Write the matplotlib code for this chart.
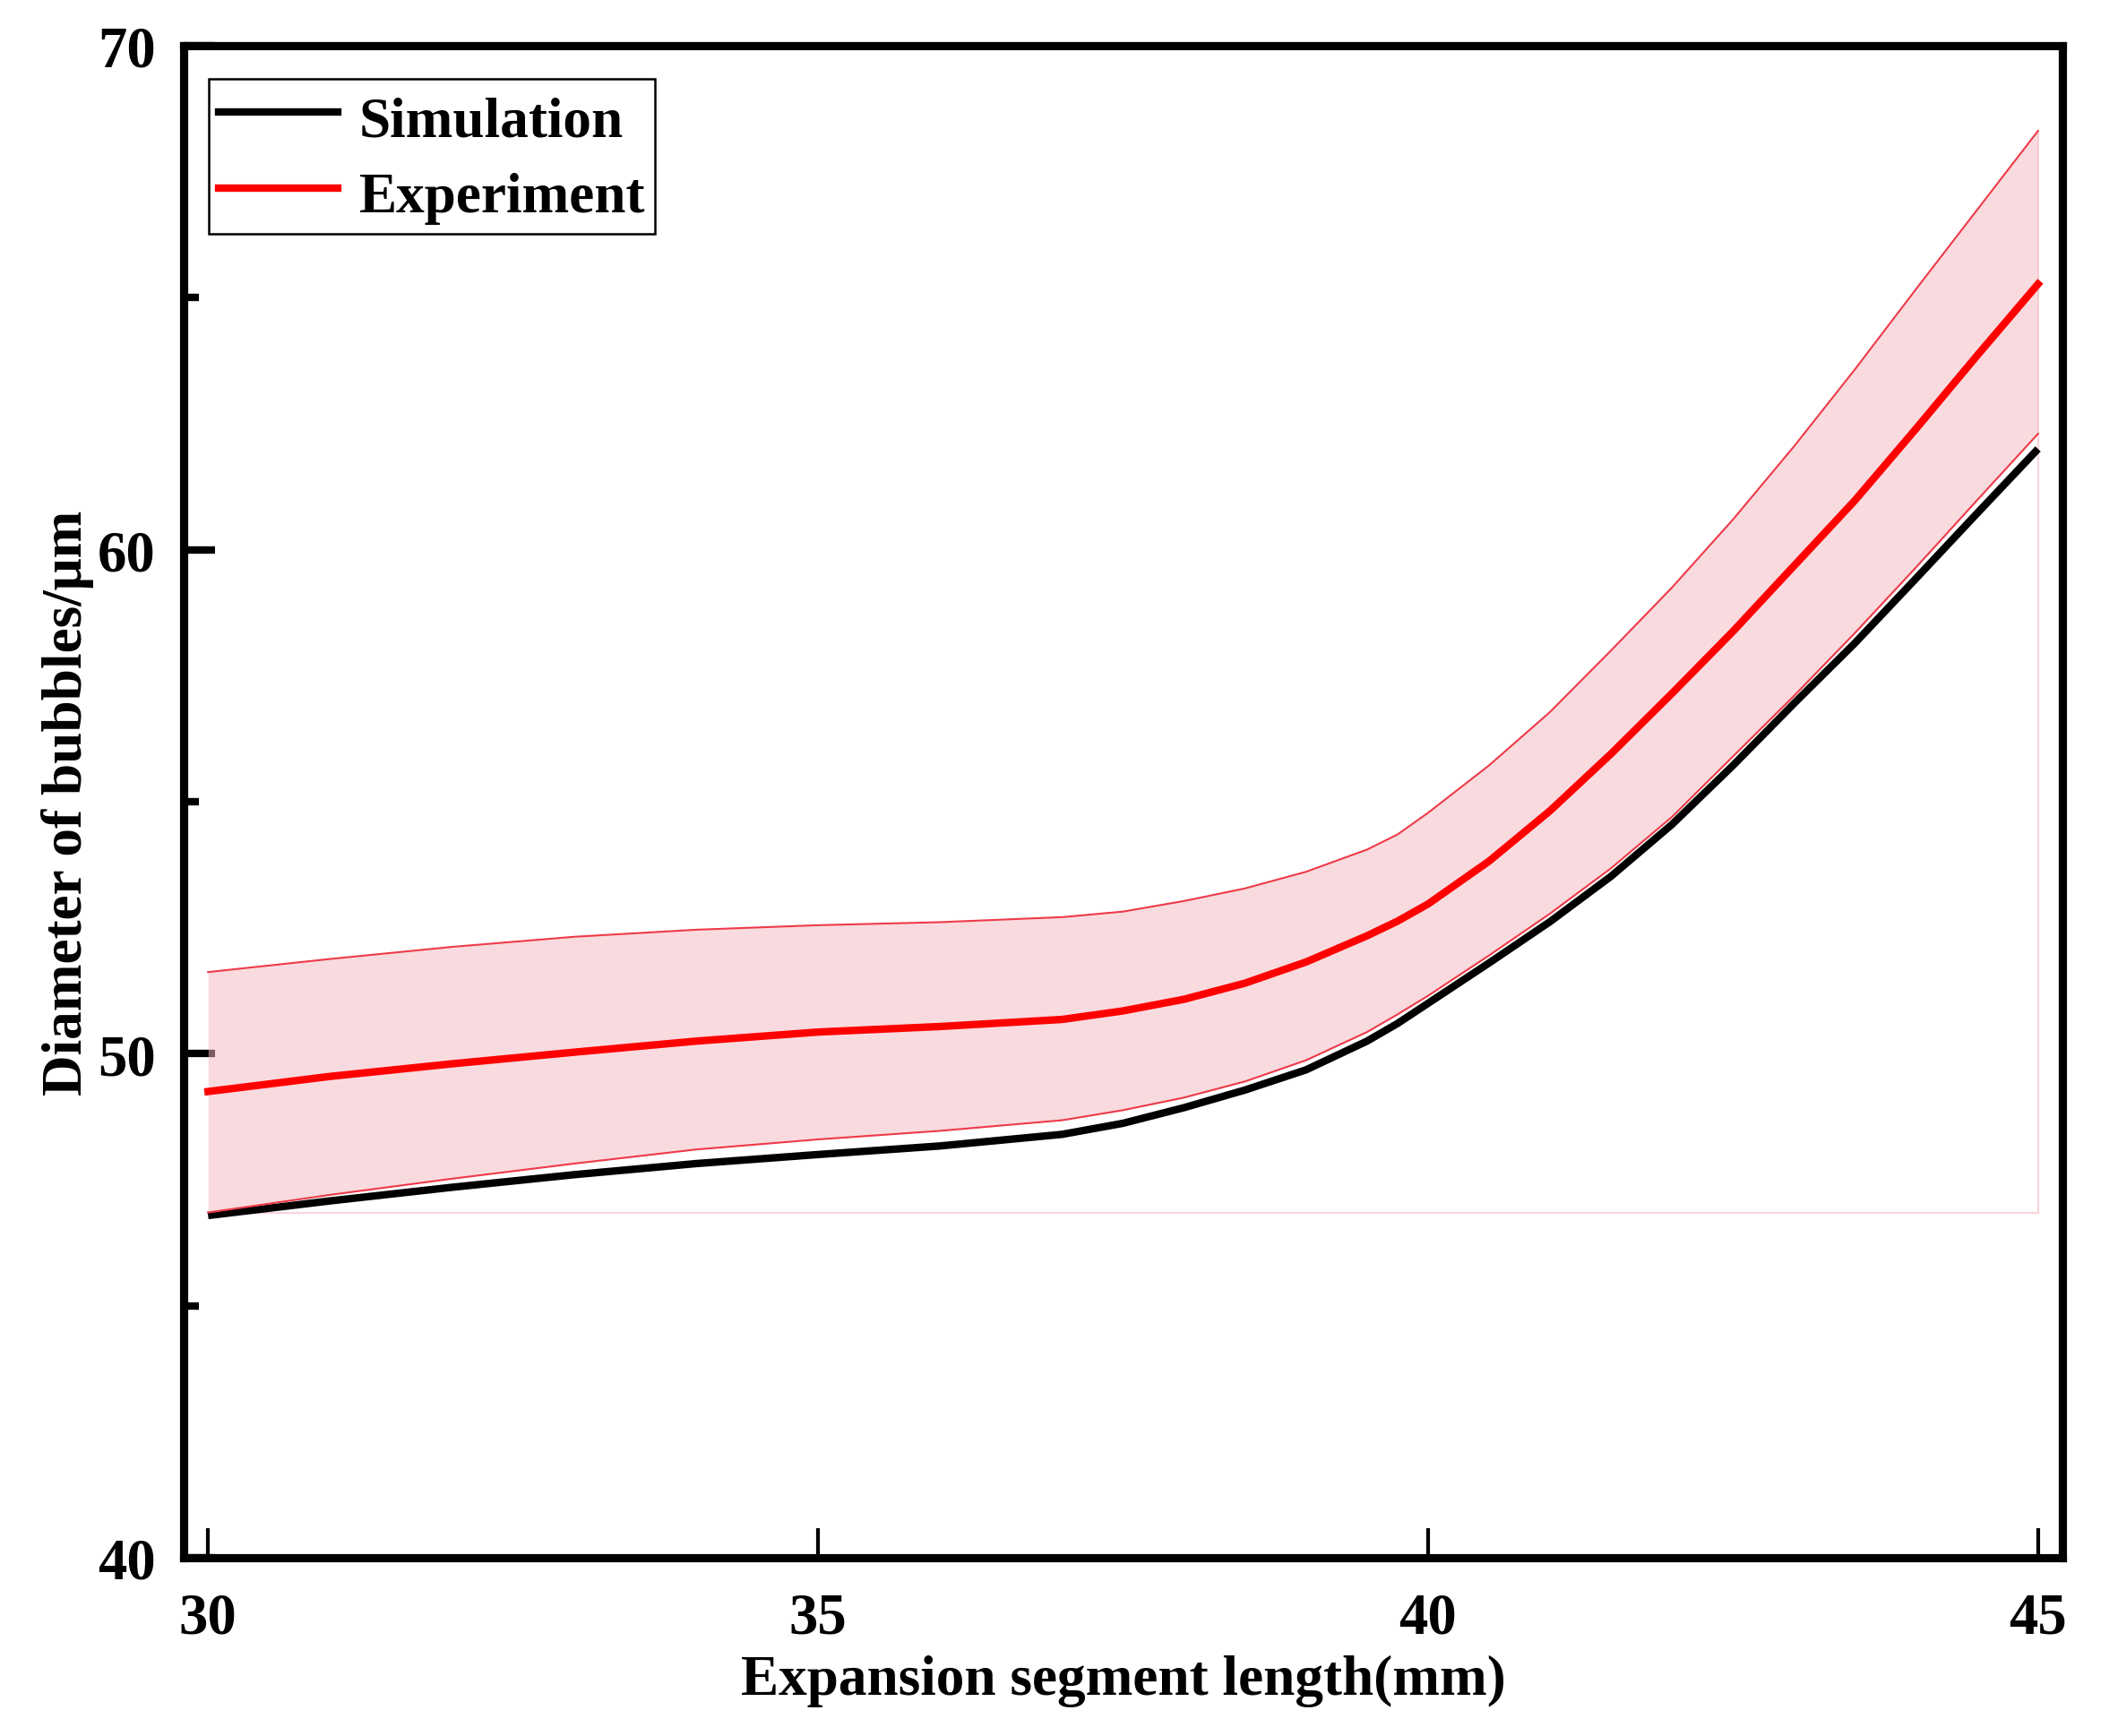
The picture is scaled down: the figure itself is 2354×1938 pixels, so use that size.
import matplotlib
matplotlib.use("Agg")
import matplotlib.pyplot as plt
from matplotlib.lines import Line2D

plt.rcParams['font.family'] = ['Liberation Serif', 'DejaVu Serif']
plt.rcParams['font.weight'] = 'bold'

x = [30, 31, 32, 33, 34, 35, 36, 37, 37.5, 38, 38.5, 39, 39.5, 39.75, 40,
     40.5, 41, 41.5, 42, 42.5, 43, 43.5, 44, 44.5, 45]
simulation = [46.79, 47.08, 47.35, 47.60, 47.82, 48.00, 48.17, 48.40, 48.62, 48.93,
              49.28, 49.68, 50.25, 50.60, 51.00, 51.80, 52.62, 53.52, 54.55, 55.72,
              56.95, 58.15, 59.43, 60.72, 62.00]
experiment = [49.25, 49.55, 49.80, 50.03, 50.25, 50.43, 50.54, 50.68, 50.85, 51.08,
              51.40, 51.82, 52.34, 52.63, 52.97, 53.82, 54.82, 55.95, 57.15, 58.38,
              59.68, 60.98, 62.40, 63.85, 65.27]
exp_upper = [51.62, 51.88, 52.12, 52.32, 52.46, 52.55, 52.61, 52.71, 52.82, 53.03,
             53.28, 53.61, 54.05, 54.35, 54.78, 55.72, 56.78, 58.00, 59.25, 60.60,
             62.05, 63.58, 65.17, 66.74, 68.31]
exp_lower = [46.85, 47.20, 47.52, 47.82, 48.10, 48.30, 48.47, 48.68, 48.88, 49.13,
             49.45, 49.87, 50.43, 50.78, 51.15, 51.95, 52.78, 53.68, 54.70, 55.90,
             57.10, 58.35, 59.65, 60.98, 62.30]

xticks = [30, 35, 40, 45]
yticks = [40, 50, 60, 70]

W, H, DPI = 2354, 1939, 300
fig = plt.figure(figsize=(W / DPI, H / DPI), dpi=DPI)
ax = fig.add_axes([205 / W, 1 - 1740 / H, (2302 - 205) / W, (1740 - 52) / H])

FS = 15.5
LFS = 15.2
# simulation line (under the band)
ax.plot(x, simulation, color='black', lw=2.0, zorder=2, solid_capstyle='butt')
# band
ax.fill_between(x, exp_lower, exp_upper, color=(245 / 255, 185 / 255, 192 / 255),
                alpha=0.50, lw=0, zorder=3)
edge = '#EE3A48'
ax.plot(x, exp_upper, color=edge, lw=0.5, zorder=3.5)
ax.plot(x, exp_lower, color=edge, lw=0.5, zorder=3.5)
# faint outline of fill base
faint = '#F9D3D9'
ax.plot([x[0], x[-1]], [exp_lower[0], exp_lower[0]], color=faint, lw=0.5, zorder=1.5)
ax.plot([x[-1], x[-1]], [exp_lower[0], exp_upper[-1]], color=faint, lw=0.5, zorder=1.5)
# experiment mean line
ax.plot(x, experiment, color='#FF0000', lw=2.0, zorder=4)

ax.set_xlim(29.8, 45.2)
ax.set_ylim(40, 70)
ax.set_xticks(xticks)
ax.set_yticks(yticks)
ax.set_yticks([45, 55, 65], minor=True)
ax.set_xticklabels([str(v) for v in xticks], fontsize=FS, fontweight='bold')
ax.set_yticklabels([str(v) for v in yticks], fontsize=FS, fontweight='bold')

for s in ax.spines.values():
    s.set_linewidth(2.2)
ax.tick_params(axis='x', which='major', direction='in', length=8, width=1.0, pad=9)
ax.tick_params(axis='y', which='major', direction='in', length=8.3, width=2.0, pad=7.5)
ax.tick_params(axis='y', which='minor', direction='in', length=4, width=2.0)
ax.tick_params(top=False, right=False)

ax.set_xlabel('Expansion segment length(mm)', fontsize=LFS, fontweight='bold', labelpad=2.5)
ax.set_ylabel('Diameter of bubbles/μm', fontsize=LFS, fontweight='bold', labelpad=1)

handles = [Line2D([], [], color='black', lw=2.0), Line2D([], [], color='#FF0000', lw=2.0)]
leg = ax.legend(handles, ['Simulation', 'Experiment'], loc='upper left',
                bbox_to_anchor=(0.0134, 0.978), borderaxespad=0, frameon=True,
                fancybox=False, edgecolor='black', framealpha=1,
                prop={'family': 'Liberation Serif', 'weight': 'bold', 'size': LFS},
                handlelength=2.1, handleheight=1.15, handletextpad=0.38,
                borderpad=0.17, labelspacing=0.28)
leg.get_frame().set_linewidth(0.6)

fig.savefig('out.png', dpi=DPI)
